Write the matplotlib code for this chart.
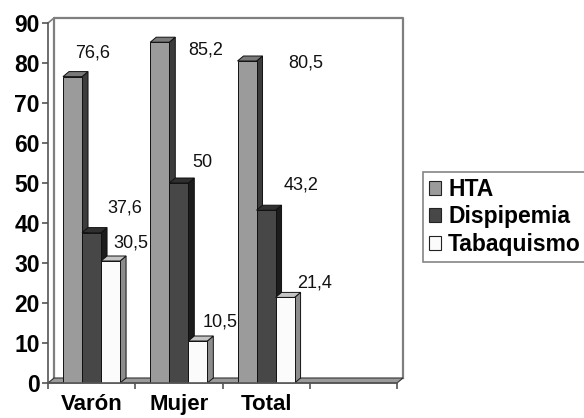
"""Recreate the grayscale 3D-style grouped bar chart (HTA, Dispipemia, Tabaquismo)."""

import matplotlib.pyplot as plt
from matplotlib.patches import Polygon, Rectangle, Patch

# data
groups = ['Varón', 'Mujer', 'Total']
series = ['HTA', 'Dispipemia', 'Tabaquismo']
hta = [76.6, 85.2, 80.5]
dispipemia = [37.6, 50, 43.2]
tabaquismo = [30.5, 10.5, 21.4]
n_slots = 4  # the category axis has one empty slot at the end

# value-label offsets from each bar (slot units, value units)
label_dx = [[0.225, 0.385, 0.236], [0.524, 0.27, 0.259], [0.673, 0.397, 0.339]]
label_dy = [[5.9, 6.15, 4.5], [-1.95, 5.0, 4.75], [-0.5, 6.3, 3.6]]

# front, side, top colours per series
face_colors = [('#9b9b9b', '#3c3c3c', '#7a7a7a'),
               ('#474747', '#1c1c1c', '#303030'),
               ('#fbfbfb', '#8c8c8c', '#c4c4c4')]

FONT = 'Liberation Sans'
BAR_W = 0.218
GROUP_PAD = 0.172
DX = 6 / 87.25      # depth shift in slot units
DY = 5 / 4.0        # depth shift in value units


def draw_bar(ax, x0, value, colors):
    """Draw one pseudo-3D bar: front face, right side and top."""
    front, side, top = colors
    kw = dict(edgecolor='#111111', linewidth=0.7)
    ax.add_patch(Polygon([(x0 + BAR_W, 0), (x0 + BAR_W + DX, DY),
                          (x0 + BAR_W + DX, value + DY), (x0 + BAR_W, value)],
                         facecolor=side, **kw))
    ax.add_patch(Polygon([(x0, value), (x0 + DX, value + DY),
                          (x0 + BAR_W + DX, value + DY), (x0 + BAR_W, value)],
                         facecolor=top, **kw))
    ax.add_patch(Rectangle((x0, 0), BAR_W, value, facecolor=front, **kw))


def main():
    fig = plt.figure(figsize=(5.84, 4.18), dpi=100)
    ax = fig.add_axes([48 / 584, 35 / 418, 349 / 584, 360 / 418])
    ax.set_xlim(0, n_slots)
    ax.set_ylim(0, 90)

    # back wall and side wall outline
    wall = '#7f7f7f'
    ax.plot([DX, DX, n_slots + DX, n_slots + DX], [DY, 90 + DY, 90 + DY, DY],
            color=wall, linewidth=1.6, clip_on=False, zorder=1)
    ax.plot([0, DX], [90, 90 + DY], color=wall, linewidth=1.2, clip_on=False, zorder=1)

    # floor
    ax.add_patch(Polygon([(0, 0), (n_slots, 0), (n_slots + DX, DY), (DX, DY)],
                         facecolor='#9a9a9a', edgecolor='#333333', linewidth=0.8,
                         clip_on=False, zorder=1))

    data = [hta, dispipemia, tabaquismo]
    for g in range(len(groups)):
        for s in range(len(series)):
            x0 = g + GROUP_PAD + s * BAR_W
            draw_bar(ax, x0, data[s][g], face_colors[s])
            text = f'{data[s][g]:g}'.replace('.', ',')
            ax.text(x0 + BAR_W / 2 + label_dx[g][s], data[s][g] + label_dy[g][s], text,
                    ha='center', va='center', fontsize=13, family=FONT,
                    color='#111111', clip_on=False, zorder=5)

    for side in ['top', 'right']:
        ax.spines[side].set_visible(False)
    for side in ['left', 'bottom']:
        ax.spines[side].set_color('#555555')
        ax.spines[side].set_linewidth(1.2)
    ax.set_yticks(range(0, 100, 10))
    ax.tick_params(axis='y', length=4, width=1.2, color='#555555', pad=2,
                   labelsize=16.5)
    ax.set_xticks(range(n_slots + 1), minor=True)
    ax.set_xticks([g + 0.5 for g in range(len(groups))])
    ax.set_xticklabels(groups)
    ax.tick_params(axis='x', which='major', length=0, pad=8, labelsize=16)
    ax.tick_params(axis='x', which='minor', length=4, width=1.2, color='#555555')
    for lbl in ax.get_xticklabels() + ax.get_yticklabels():
        lbl.set_family(FONT)
        lbl.set_fontweight('bold')

    handles = [Patch(facecolor=c[0], edgecolor='#222222', linewidth=0.8) for c in face_colors]
    leg = fig.legend(handles, series, loc='upper left',
                     bbox_to_anchor=(423 / 584, 1 - 172 / 418),
                     prop=dict(family=FONT, weight='bold', size=16.5),
                     frameon=True, fancybox=False, edgecolor='#666666',
                     handlelength=0.55, handleheight=0.55, handletextpad=0.3,
                     labelspacing=0.2, borderpad=0.25, borderaxespad=0)
    leg.get_frame().set_linewidth(1.2)

    fig.savefig('out.png', dpi=100)


if __name__ == '__main__':
    main()
